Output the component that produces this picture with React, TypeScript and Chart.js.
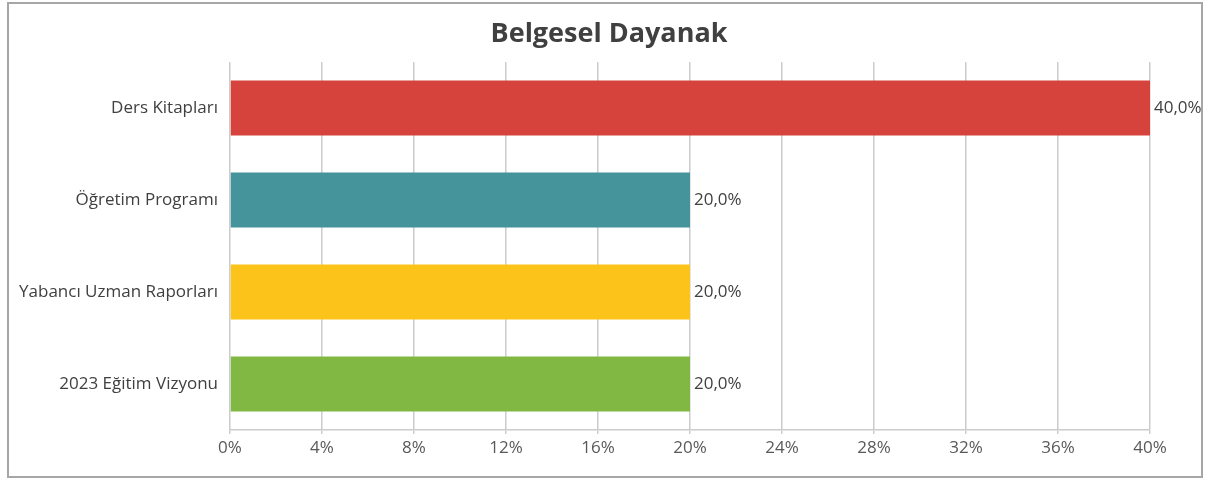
import React, { useEffect, useRef } from "react";
import { Chart, registerables } from "chart.js";

Chart.register(...registerables);

const titleText = "Belgesel Dayanak";
const categories = ["Ders Kitapları", "Öğretim Programı", "Yabancı Uzman Raporları", "2023 Eğitim Vizyonu"];
const values = [40, 20, 20, 20];
const barColors = ["#D6433D", "#45939B", "#FCC41A", "#80B843"];
const valueLabels = ["40,0%", "20,0%", "20,0%", "20,0%"];

const FONT = "'Open Sans', 'Noto Sans', sans-serif";

export default function App() {
  const ref = useRef<HTMLCanvasElement | null>(null);
  useEffect(() => {
    if (!ref.current) return;
    const framePlugin = {
      id: "frame",
      beforeDraw(chart: any) {
        const ctx = chart.ctx;
        ctx.save();
        ctx.fillStyle = "#ffffff";
        ctx.fillRect(0, 0, chart.width, chart.height);
        ctx.strokeStyle = "#a6a6a6";
        ctx.lineWidth = 2;
        ctx.strokeRect(8, 3, 1194, 474);
        ctx.fillStyle = "#404040";
        ctx.font = `bold 27px ${FONT}`;
        ctx.textAlign = "center";
        ctx.textBaseline = "middle";
        ctx.fillText(titleText, 609, 34);
        ctx.restore();
      },
      afterDatasetsDraw(chart: any) {
        const ctx = chart.ctx;
        const meta = chart.getDatasetMeta(0);
        ctx.save();
        ctx.fillStyle = "#404040";
        ctx.font = `17px ${FONT}`;
        ctx.textAlign = "left";
        ctx.textBaseline = "middle";
        meta.data.forEach((bar: any, i: number) => {
          ctx.fillText(valueLabels[i], bar.x + 4, bar.y);
        });
        ctx.restore();
      },
    };
    const chart = new Chart(ref.current, {
      type: "bar",
      data: {
        labels: categories,
        datasets: [
          {
            data: values,
            backgroundColor: barColors,
            borderWidth: 0,
            barPercentage: 1,
            categoryPercentage: 0.6,
          },
        ],
      },
      options: {
        indexAxis: "y",
        animation: false,
        responsive: false,
        maintainAspectRatio: false,
        layout: { padding: { left: 0, right: 60, top: 62, bottom: 0 } },
        plugins: {
          legend: { display: false },
          title: { display: false },
          tooltip: { enabled: false },
        },
        scales: {
          x: {
            min: 0,
            max: 40,
            ticks: {
              stepSize: 4,
              color: "#595959",
              font: { family: FONT, size: 17 },
              padding: 4,
              callback: (v: any) => `${v}%`,
            },
            grid: { color: "#cccccc", lineWidth: 1.5, tickLength: 4 },
            border: { color: "#cccccc", width: 1.5 },
            afterFit: (scale: any) => {
              scale.height = 49;
            },
          },
          y: {
            ticks: {
              color: "#404040",
              font: { family: FONT, size: 17 },
              padding: 4,
            },
            grid: { display: false },
            border: { display: false },
            afterFit: (scale: any) => {
              scale.width = 230;
            },
          },
        },
      },
      plugins: [framePlugin],
    });
    return () => chart.destroy();
  }, []);
  return (
    <div style={{ position: "absolute", left: 0, top: 0, width: 1210, height: 479 }}>
      <canvas ref={ref} width={1210} height={479} style={{ display: "block" }} />
    </div>
  );
}
